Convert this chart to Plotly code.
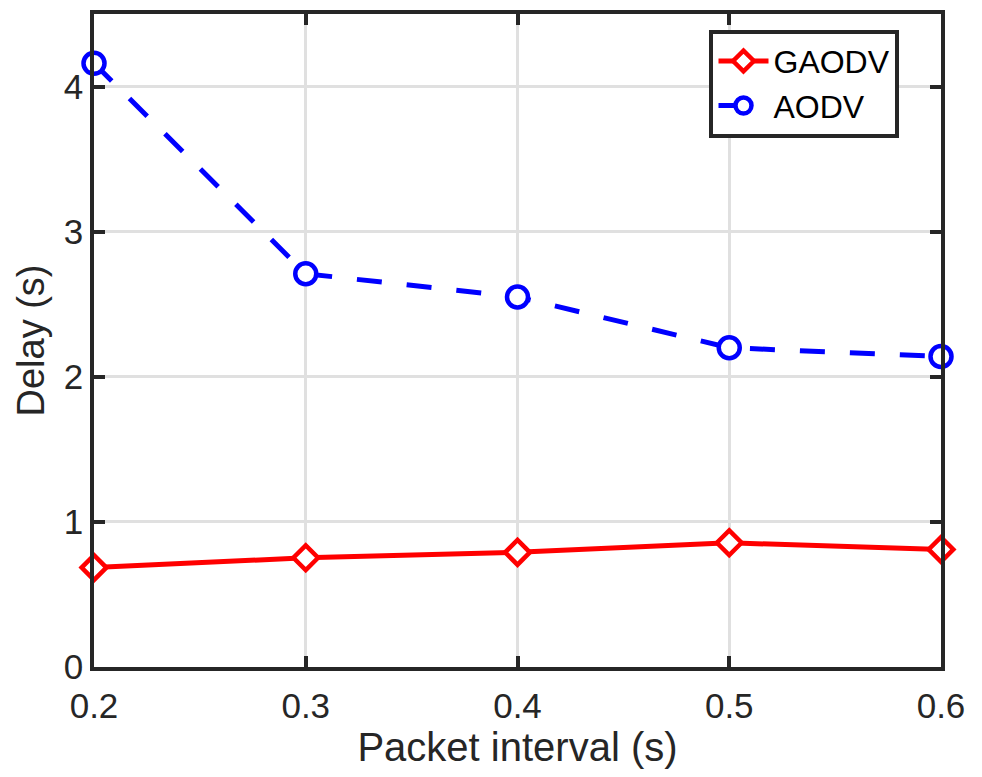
import plotly.graph_objects as go

packet_interval = [0.2, 0.3, 0.4, 0.5, 0.6]
gaodv_delay = [0.685, 0.753, 0.79, 0.856, 0.81]
aodv_delay = [4.16, 2.71, 2.55, 2.20, 2.14]

x_ticks = [0.2, 0.3, 0.4, 0.5, 0.6]
x_tick_labels = ["0.2", "0.3", "0.4", "0.5", "0.6"]
y_ticks = [0, 1, 2, 3, 4]
y_tick_labels = ["0", "1", "2", "3", "4"]

font_family = "Liberation Sans, Arial, sans-serif"
axis_color = "#262626"

fig = go.Figure()
fig.add_trace(go.Scatter(
    x=packet_interval, y=gaodv_delay, name="GAODV",
    mode="lines+markers",
    line=dict(color="#ff0000", width=5),
    marker=dict(symbol="diamond", size=19, color="white",
                line=dict(color="#ff0000", width=4.5)),
    cliponaxis=False,
))
fig.add_trace(go.Scatter(
    x=packet_interval, y=aodv_delay, name="AODV",
    mode="lines+markers",
    line=dict(color="#0000ff", width=5, dash="25px,25px"),
    marker=dict(symbol="circle", size=21, color="white",
                line=dict(color="#0000ff", width=4.5)),
    cliponaxis=False,
))

axis_common = dict(
    showline=True, linecolor=axis_color, linewidth=3.5, mirror="allticks",
    ticks="inside", ticklen=11, tickwidth=3.5, tickcolor=axis_color,
    showgrid=True, gridcolor="#e0e0e0", gridwidth=2.5,
    zeroline=False,
    tickfont=dict(family=font_family, size=35, color=axis_color),
    automargin=False,
)

fig.update_layout(
    width=982, height=777,
    margin=dict(l=94, r=41, t=14, b=110),
    paper_bgcolor="white", plot_bgcolor="white",
    font=dict(family=font_family, color=axis_color),
    showlegend=True,
    legend=dict(
        x=0.951, y=0.976, xanchor="right", yanchor="top",
        bgcolor="white", bordercolor=axis_color, borderwidth=4,
        font=dict(family=font_family, size=32, color="black"),
        itemwidth=50, tracegroupgap=0,
    ),
    xaxis=dict(
        range=[0.2, 0.6], tickvals=x_ticks, ticktext=x_tick_labels,
        ticklabelstandoff=5,
        title=dict(text="Packet interval (s)", font=dict(family=font_family, size=40, color=axis_color), standoff=4),
        **axis_common,
    ),
    yaxis=dict(
        range=[0, 4.5], tickvals=y_ticks, ticktext=y_tick_labels,
        title=dict(text="Delay (s)", font=dict(family=font_family, size=38, color=axis_color), standoff=8),
        **axis_common,
    ),
)

fig.write_html("out.html")
